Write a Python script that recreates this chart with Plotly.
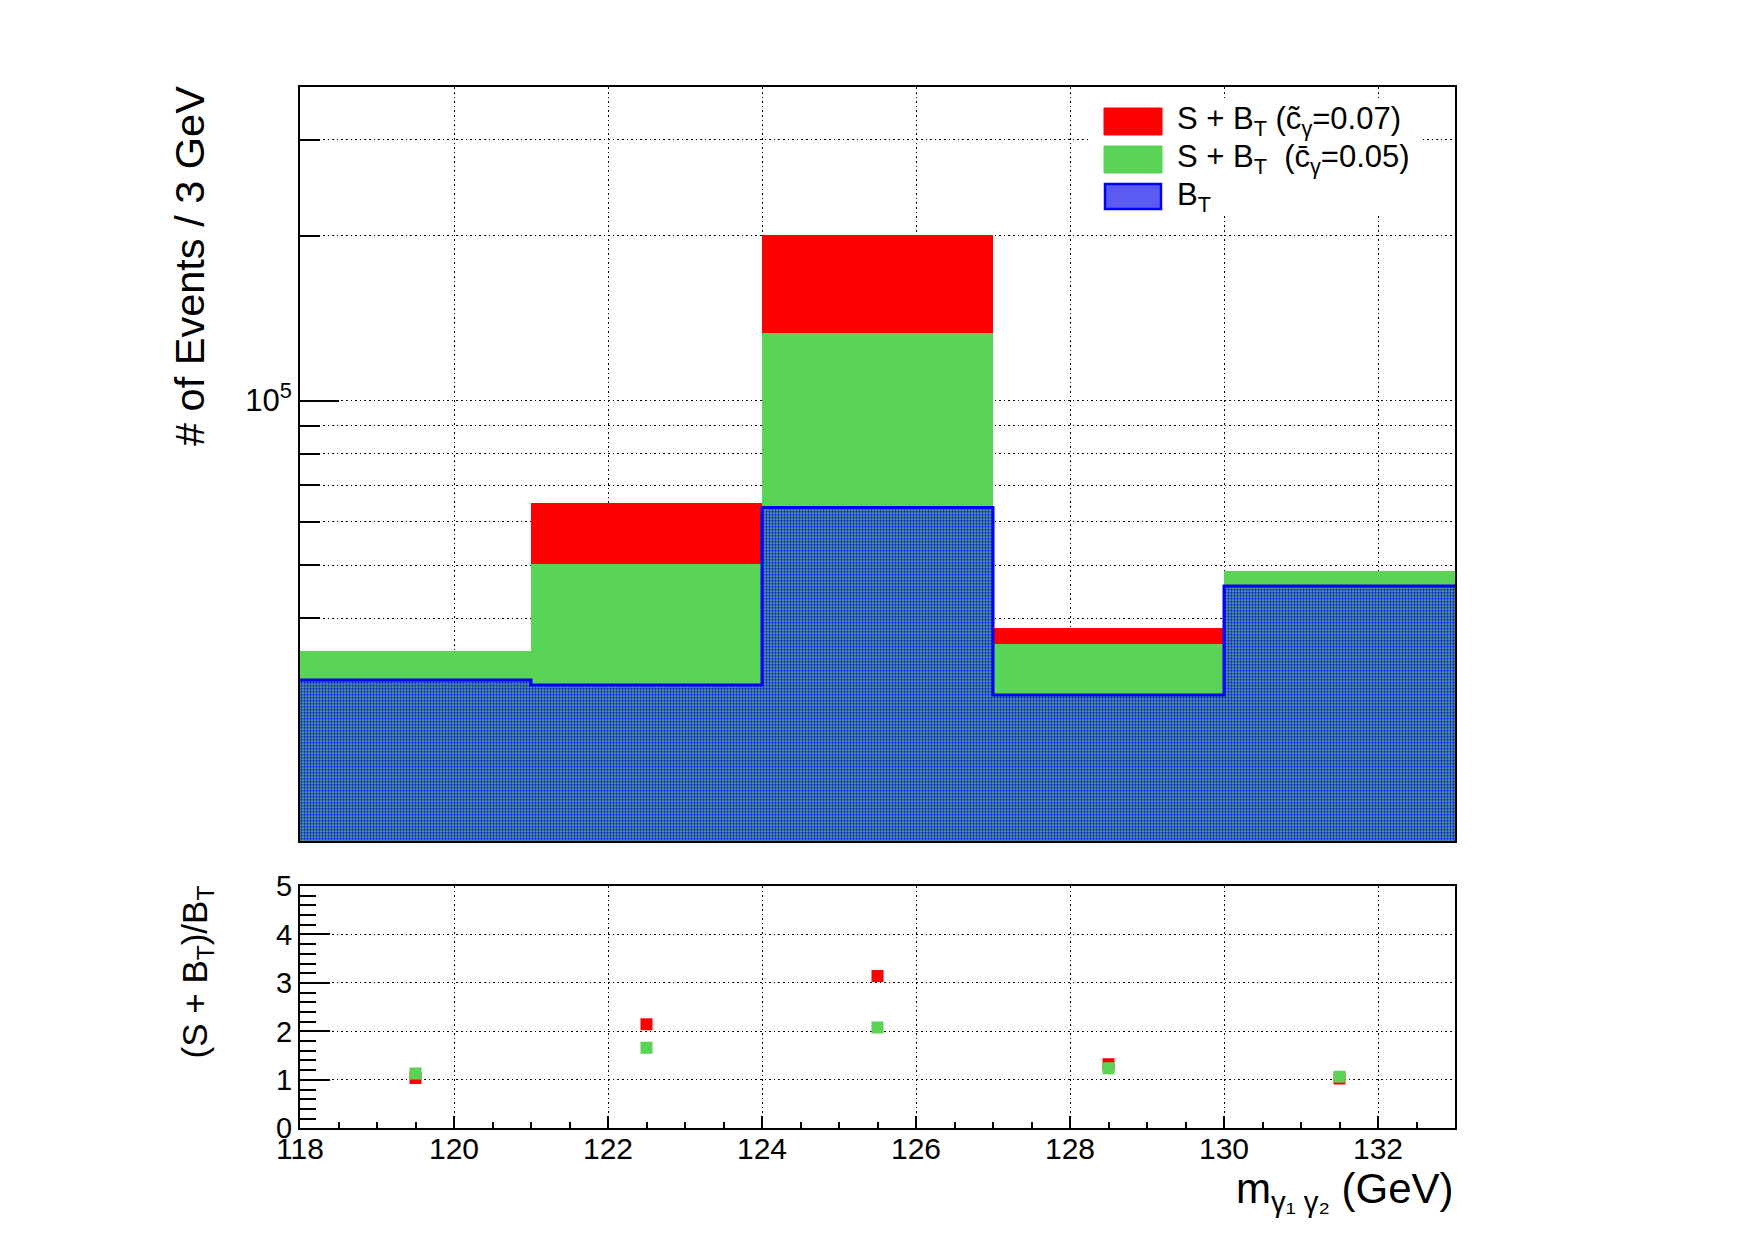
import plotly.graph_objects as go

# ---------------- data ----------------
bin_edges = [118, 121, 124, 127, 130, 133]
bin_centers = [119.5, 122.5, 125.5, 128.5, 131.5]
bkg_T = [30830, 30190, 63740, 28950, 45810]          # B_T
sb_c007 = [32060, 64880, 200460, 38260, 47180]       # S + B_T (c~=0.07)
sb_c005 = [34830, 50200, 132700, 35830, 48790]       # S + B_T (c-=0.05)
x_tick_vals = [118, 120, 122, 124, 126, 128, 130, 132]
ratio_tick_vals = [0, 1, 2, 3, 4, 5]
main_major_ticks = [1e5]
main_major_text = ["10<sup>5</sup>"]
main_minor_ticks = [4e4, 5e4, 6e4, 7e4, 8e4, 9e4, 2e5, 3e5]
legend_labels = [
    "S + B<sub>T</sub> (c\u0303<sub>\u03b3</sub>=0.07)",
    "S + B<sub>T</sub>  (c\u0304<sub>\u03b3</sub>=0.05)",
    "B<sub>T</sub>",
]

ratio_c007 = [s / b for s, b in zip(sb_c007, bkg_T)]
ratio_c005 = [s / b for s, b in zip(sb_c005, bkg_T)]

# ---------------- style ----------------
W, H = 1755, 1240
FONT = "Liberation Sans, Arial, Helvetica, sans-serif"
RED = "#ff0000"
GREEN = "#59d454"
BLUE = "#0000ff"
PATTERN_BG = "#4f9e84"
GRID_DASH = "1.6px,3px"


def px(x):
    return x / W


def py(y):
    return 1 - y / H


x_dom = [px(300), px(1455)]
main_dom = [py(841), py(87.3)]
ratio_dom = [py(1128.3), py(886)]

fig = go.Figure()

bin_width = bin_edges[1] - bin_edges[0]

fig.add_trace(go.Bar(x=bin_centers, y=sb_c007, width=bin_width,
                     marker=dict(color=RED, line=dict(width=0)),
                     opacity=1, xaxis="x", yaxis="y", showlegend=False))
fig.add_trace(go.Bar(x=bin_centers, y=sb_c005, width=bin_width,
                     marker=dict(color=GREEN, line=dict(width=0)),
                     opacity=1, xaxis="x", yaxis="y", showlegend=False))
fig.add_trace(go.Bar(x=bin_centers, y=bkg_T, width=bin_width,
                     marker=dict(color=PATTERN_BG, line=dict(width=0),
                                 pattern=dict(shape=".", fgcolor=BLUE, bgcolor=PATTERN_BG,
                                              size=3, solidity=0.42, fillmode="replace")),
                     opacity=1, xaxis="x", yaxis="y", showlegend=False))
# outline of B_T histogram
fig.add_trace(go.Scatter(x=bin_edges, y=bkg_T + [bkg_T[-1]], mode="lines",
                         line=dict(color=BLUE, width=3, shape="hv"),
                         xaxis="x", yaxis="y", showlegend=False, hoverinfo="skip"))

# ratio markers
fig.add_trace(go.Scatter(x=bin_centers, y=ratio_c007, mode="markers",
                         marker=dict(symbol="square", size=12, color=RED, line=dict(width=0)),
                         xaxis="x2", yaxis="y2", showlegend=False))
fig.add_trace(go.Scatter(x=bin_centers, y=ratio_c005, mode="markers",
                         marker=dict(symbol="square", size=12, color=GREEN, line=dict(width=0)),
                         xaxis="x2", yaxis="y2", showlegend=False))

axis_common = dict(showline=True, linecolor="black", linewidth=2, mirror=True,
                   gridcolor="black", gridwidth=1.2, griddash=GRID_DASH,
                   zeroline=False, automargin=False)

fig.update_layout(
    width=W, height=H,
    margin=dict(l=0, r=0, t=0, b=0),
    paper_bgcolor="white", plot_bgcolor="white",
    barmode="overlay", bargap=0,
    font=dict(family=FONT, color="black"),
    showlegend=False,
    xaxis=dict(domain=x_dom, anchor="y", range=[bin_edges[0], bin_edges[-1]],
               tickmode="array", tickvals=x_tick_vals, showticklabels=False,
               ticks="", showgrid=True, matches="x2", **axis_common),
    yaxis=dict(domain=main_dom, anchor="x", type="log", range=[4.1947, 5.5726],
               tickmode="array", tickvals=main_major_ticks, ticktext=main_major_text,
               ticks="inside", ticklen=39, tickwidth=2, tickcolor="black",
               tickfont=dict(family=FONT, size=31, color="black"),
               showgrid=True,
               minor=dict(tickmode="array", tickvals=main_minor_ticks, ticks="inside",
                          ticklen=20, tickwidth=2, tickcolor="black", showgrid=True,
                          gridcolor="black", gridwidth=1.2, griddash=GRID_DASH),
               **axis_common),
    xaxis2=dict(domain=x_dom, anchor="y2", range=[bin_edges[0], bin_edges[-1]],
                tickmode="array", tickvals=x_tick_vals,
                ticks="inside", ticklen=12, tickwidth=2, tickcolor="black",
                tickfont=dict(family=FONT, size=30, color="black"),
                ticklabelstandoff=-7,
                showgrid=True,
                minor=dict(dtick=0.5, tick0=118, ticks="inside", ticklen=6, tickwidth=2,
                           tickcolor="black", showgrid=False),
                **axis_common),
    yaxis2=dict(domain=ratio_dom, anchor="x2", range=[0, 5],
                tickmode="array", tickvals=ratio_tick_vals,
                ticks="inside", ticklen=30, tickwidth=2, tickcolor="black",
                tickfont=dict(family=FONT, size=29, color="black"),
                showgrid=True,
                minor=dict(dtick=0.2, tick0=0, ticks="inside", ticklen=16, tickwidth=2,
                           tickcolor="black", showgrid=False),
                **axis_common),
)

# ---------------- legend (drawn) ----------------
shapes = [
    dict(type="rect", xref="paper", yref="paper", x0=px(1090), x1=px(1423),
         y0=py(216), y1=py(101), fillcolor="white", line=dict(width=0), layer="above"),
    dict(type="rect", xref="paper", yref="paper", x0=px(1104), x1=px(1162),
         y0=py(135), y1=py(108), fillcolor=RED, line=dict(color=RED, width=1), layer="above"),
    dict(type="rect", xref="paper", yref="paper", x0=px(1104), x1=px(1162),
         y0=py(173), y1=py(146), fillcolor=GREEN, line=dict(color=GREEN, width=1), layer="above"),
    dict(type="rect", xref="paper", yref="paper", x0=px(1105), x1=px(1161),
         y0=py(209), y1=py(184), fillcolor="#5b5bf2", line=dict(color=BLUE, width=2.5), layer="above"),
]
fig.update_layout(shapes=shapes)

annotations = []
for lbl, yc in zip(legend_labels, [121, 159, 197]):
    annotations.append(dict(text=lbl, xref="paper", yref="paper", x=px(1175), y=py(yc),
                            xanchor="left", yanchor="middle", showarrow=False,
                            font=dict(family=FONT, size=31, color="black")))

# axis titles
annotations.append(dict(text="# of Events / 3 GeV", xref="paper", yref="paper",
                        x=px(189), y=py(84), xanchor="center", yanchor="top",
                        textangle=-90, showarrow=False,
                        font=dict(family=FONT, size=41.5, color="black")))
annotations.append(dict(text="(S + B<sub>T</sub>)/B<sub>T</sub>", xref="paper", yref="paper",
                        x=px(196), y=py(884), xanchor="center", yanchor="top",
                        textangle=-90, showarrow=False,
                        font=dict(family=FONT, size=35, color="black")))
annotations.append(dict(text="m<sub>\u03b3\u2081 \u03b3\u2082</sub> (GeV)", xref="paper", yref="paper",
                        x=px(1456), y=py(1191), xanchor="right", yanchor="middle",
                        showarrow=False,
                        font=dict(family=FONT, size=42, color="black")))
fig.update_layout(annotations=annotations)

fig.write_html("out.html")
